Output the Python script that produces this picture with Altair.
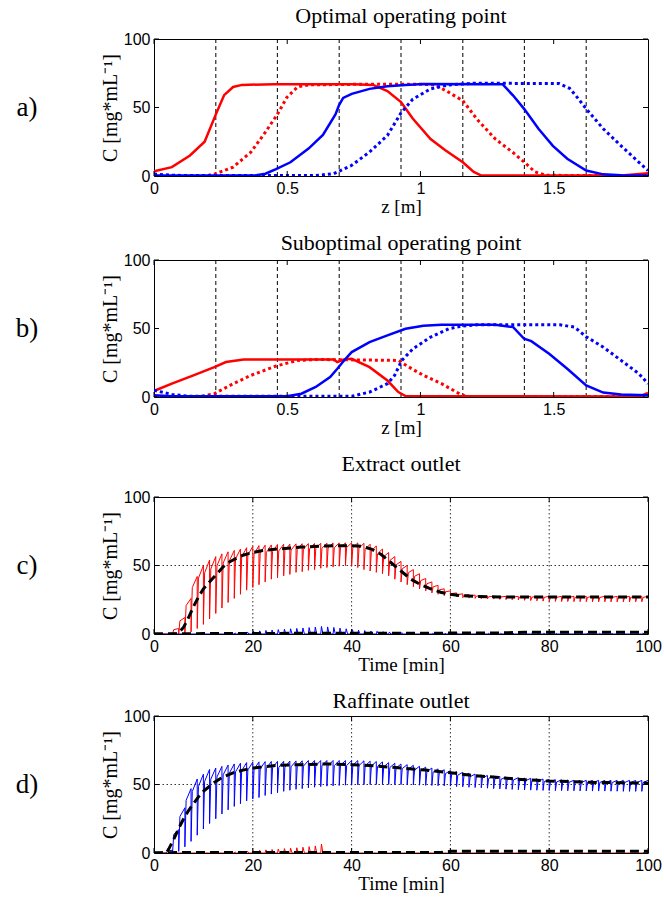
import altair as alt
import pandas as pd

# ---------------- axial profiles (panels a, b) ----------------
Z_MAX = 1.854
column_boundaries = [0.232, 0.463, 0.695, 0.927, 1.159, 1.390, 1.622]
z_ticks = [0, 0.5, 1, 1.5]
c_ticks = [0, 50, 100]

a_red_solid_z = [0, 0.067, 0.135, 0.19, 0.232, 0.263, 0.297, 0.33, 0.45, 0.6, 0.75, 0.822, 0.876, 0.927, 0.971, 1.038, 1.092, 1.159, 1.2, 1.227, 1.5, 1.766, 1.854]
a_red_solid_c = [3.5, 6.5, 15, 25, 45, 59, 65, 66.5, 67, 67, 67, 66.5, 62, 54, 42, 27, 19, 10, 3, 0.5, 0.3, 0.5, 2]
a_red_dot_z = [0, 0.15, 0.2, 0.232, 0.297, 0.364, 0.418, 0.463, 0.499, 0.539, 0.58, 0.8, 1.0, 1.054, 1.098, 1.159, 1.214, 1.281, 1.348, 1.39, 1.43, 1.47, 1.7, 1.854]
a_red_dot_c = [0, 0, 0.3, 1.7, 6.5, 17.5, 32, 45, 57.5, 65, 66.5, 67, 67, 66.5, 62, 55, 41, 27, 17, 10, 3, 0.5, 0.3, 0.3]
a_blue_solid_z = [0, 0.2, 0.378, 0.418, 0.458, 0.512, 0.58, 0.634, 0.681, 0.695, 0.71, 0.742, 0.809, 0.876, 0.944, 1.011, 1.308, 1.348, 1.389, 1.443, 1.497, 1.551, 1.622, 1.686, 1.753, 1.854]
a_blue_solid_c = [0.3, 0.3, 0.3, 1.7, 5, 10, 20, 30, 45, 52, 57, 60, 63.6, 65.5, 66.5, 67.2, 67, 58.7, 49, 34.5, 22, 12.6, 4, 1.2, 0.5, 0.3]
a_blue_dot_z = [0, 0.067, 0.2, 0.607, 0.674, 0.742, 0.809, 0.876, 0.927, 0.971, 1.038, 1.106, 1.2, 1.52, 1.56, 1.59, 1.622, 1.686, 1.753, 1.82, 1.854]
a_blue_dot_c = [1.5, 0.5, 0.3, 0.3, 1.7, 7.8, 17.5, 29.6, 46, 56, 63.6, 66.5, 67.7, 67.5, 64, 57, 49, 34.5, 22, 10, 4]

b_red_solid_z = [0, 0.067, 0.148, 0.2265, 0.27, 0.337, 0.674, 0.688, 0.715, 0.742, 0.809, 0.876, 0.917, 0.944, 1.82, 1.854]
b_red_solid_c = [4.4, 9.7, 15.8, 21.8, 25.5, 27.4, 27.4, 25.5, 27.5, 27.9, 21.8, 12, 3.6, 0.7, 0.3, 2.9]
b_red_dot_z = [0, 0.175, 0.2265, 0.297, 0.364, 0.458, 0.539, 0.607, 0.917, 0.957, 1.011, 1.079, 1.146, 1.173, 1.854]
b_red_dot_c = [0, 0.3, 2.4, 9.7, 15.8, 22.6, 26.7, 27.4, 26.7, 21.8, 15.8, 9.7, 2.4, 0.3, 0.3]
b_blue_solid_z = [0, 0.067, 0.499, 0.553, 0.607, 0.661, 0.688, 0.715, 0.742, 0.809, 0.876, 0.944, 1.011, 1.079, 1.281, 1.348, 1.389, 1.416, 1.483, 1.551, 1.622, 1.686, 1.753, 1.854]
b_blue_solid_c = [1.2, 0.5, 0.5, 2.4, 7.3, 14.6, 20.6, 27, 32.8, 40, 45, 49.8, 52, 52.7, 52.7, 51, 42.5, 40.8, 31.6, 20.6, 8.5, 3.2, 1.9, 1.2]
b_blue_dot_z = [0, 0.067, 0.135, 0.742, 0.809, 0.876, 0.903, 0.93, 0.971, 1.038, 1.106, 1.153, 1.214, 1.524, 1.578, 1.622, 1.686, 1.753, 1.82, 1.854]
b_blue_dot_c = [4.9, 1.9, 0.5, 0.5, 3.6, 9.7, 15.8, 26.7, 35, 43.7, 49.8, 51.7, 52.7, 52.7, 51, 44, 36.4, 26.7, 17, 9.7]

# ---------------- outlet histories (panels c, d) ----------------
SWITCH_PERIOD = 1.25  # min
t_ticks = [0, 20, 40, 60, 80, 100]
t_grid = [20, 40, 60, 80]
c_grid = [50]

ext_red_peak = [0, 0, 0, 4, 12, 26, 42, 50, 54, 56.5,
                58.5, 60, 61, 62, 63, 64, 64.5, 64.8, 65, 65.3,
                65.5, 65.6, 65.8, 65.9, 66, 66.1, 66.2, 66.3, 66.5, 66.5,
                66.5, 66.5, 66.5, 66.2, 65.5, 64.3, 62, 59.5, 56.5, 53,
                50, 47, 44, 40.5, 38, 35.5, 33, 31.5, 30, 29.3,
                28.8, 28.4, 28, 27.8, 27.6, 27.5, 27.5, 27.5, 27.5, 27.5,
                27.5, 27.5, 27.5, 27.5, 27.5, 27.5, 27.5, 27.5, 27.5, 27.5,
                27.5, 27.5, 27.5, 27.5, 27.5, 27.5, 27.5, 27.5, 27.5, 27.5]
ext_red_trough = [0, 0, 0, 0, 0, 0, 1.5, 4, 7, 11,
                  15, 19, 23, 26, 29, 32, 34, 36, 38, 40,
                  41, 42.5, 43.5, 45, 45.5, 46.5, 47, 48, 48.5, 49,
                  49.5, 50, 49.5, 48.5, 47, 46, 45, 44, 42.5, 40,
                  38, 36, 34.5, 33, 31.5, 30, 29, 28, 27.5, 27,
                  26.5, 26.2, 26, 25.8, 25.6, 25.5, 25.3, 25.1, 25, 24.8,
                  24.6, 24.4, 24.2, 24, 23.8, 23.8, 23.7, 23.7, 23.6, 23.6,
                  23.6, 23.5, 23.5, 23.5, 23.5, 23.5, 23.5, 23.5, 23.5, 23.5]
ext_blue_peak = [0, 0, 0, 0, 0, 0, 0, 0, 0, 0,
                 0, 0, 0.5, 0.8, 1.2, 1.5, 2, 2.3, 2.6, 2.9,
                 3.2, 3.5, 3.8, 4.1, 4.4, 4.7, 5, 5.5, 5.2, 4.8,
                 4.3, 3.8, 3.2, 2.8, 2.5, 2.2, 2, 1.7, 1.5, 1.2,
                 1, 0.8, 0.6, 0.5, 0.5, 0.5, 0.5, 0.5, 0.5, 0.5,
                 0.5, 0.5, 0.5, 0.5, 0.5, 0.5, 0.5, 0.5, 0.5, 0.5,
                 0.5, 0.5, 0.5, 0.5, 0.5, 0.5, 0.5, 0.5, 0.5, 0.5,
                 0.5, 0.5, 0.5, 0.5, 0.5, 0.5, 0.5, 0.5, 0.5, 0.5]
raf_blue_peak = [0, 0, 2, 17, 33, 47, 54, 57.5, 61, 62,
                 63.2, 64.2, 65, 65.5, 66, 66.3, 66.5, 66.7, 66.8, 66.9,
                 67, 67.1, 67.2, 67.3, 67.5, 67.5, 67.5, 67.5, 67.5, 67.5,
                 67.5, 67.5, 67.5, 67.3, 67, 66.8, 66.5, 66, 65.5, 65,
                 64.5, 64, 63.3, 62.7, 62, 61.4, 60.8, 60.2, 59.5, 58.9,
                 58.3, 57.6, 57, 56.6, 56.2, 55.9, 55.5, 55.2, 55, 54.7,
                 54.5, 54.2, 54, 53.7, 53.5, 53.4, 53.3, 53.1, 53, 53,
                 53, 53, 53, 53, 53, 53, 53, 53, 53, 53]
raf_blue_trough = [0, 0, 0, 0, 1.2, 4.5, 8.5, 13, 17.5, 21.5,
                   25, 28.5, 31.5, 34, 36, 38, 39.5, 40.5, 42, 43,
                   44, 45, 45.8, 46.5, 47, 47.5, 48, 48.5, 48.8, 49,
                   49.3, 49.5, 49.7, 49.8, 49.9, 50, 50, 50, 50, 50,
                   49.9, 49.8, 49.7, 49.5, 49.4, 49.3, 49.1, 49, 48.8, 48.5,
                   48.3, 48, 47.8, 47.6, 47.3, 47, 46.8, 46.6, 46.4, 46.2,
                   46, 45.9, 45.8, 45.7, 45.6, 45.5, 45.5, 45.4, 45.4, 45.3,
                   45.3, 45.2, 45.2, 45.2, 45.1, 45.1, 45, 45, 45, 45]
raf_red_peak = [0, 0, 0, 0, 0, 0, 0, 0, 0, 0,
                0, 0, 0.5, 0.8, 1.1, 1.4, 1.7, 2, 2.3, 2.6,
                2.9, 3.2, 3.5, 3.8, 4.2, 4.6, 5.2, 6.5, 0, 0,
                0, 0, 0, 0, 0, 0, 0, 0, 0, 0,
                0, 0, 0, 0, 0, 0, 0, 0, 0, 0,
                0, 0, 0, 0, 0, 0, 0, 0, 0, 0,
                0, 0, 0, 0, 0, 0, 0, 0, 0, 0,
                0, 0, 0, 0, 0, 0, 0, 0, 0, 0]

ext_avg_red_t = [0, 4.5, 5, 6, 7, 8, 9, 10, 11, 12, 13, 14, 15, 16, 18, 20, 22, 25, 30, 35, 40, 42, 44, 46, 48, 50, 52, 54, 56, 58, 60, 62, 65, 70, 100]
ext_avg_red_c = [0, 0, 1, 5, 12, 20, 27, 33, 37, 41, 45, 49, 52, 54, 57.5, 59.5, 61, 62, 63.5, 64.3, 64.5, 64, 62, 58, 52, 46, 40, 36, 33, 30.5, 29, 28, 27.5, 27, 27]
ext_avg_blue_t = [0, 10, 30, 50, 70, 75, 100]
ext_avg_blue_c = [0, 0.3, 0.5, 0.5, 0.8, 1.2, 1.2]
raf_avg_blue_t = [0, 2.5, 3, 4, 5, 6, 7, 8, 9, 10, 12, 14, 16, 18, 20, 25, 30, 35, 40, 45, 50, 55, 60, 65, 70, 75, 80, 85, 90, 100]
raf_avg_blue_c = [0, 0, 3, 10, 18, 25, 31, 36, 41, 45, 51, 55.5, 58.5, 60.5, 62, 64, 64.5, 65, 64.5, 63.5, 62, 60.5, 58.5, 56.5, 55, 53.5, 52.5, 52, 51.5, 51]
raf_avg_red_t = [0, 5, 58, 60, 100]
raf_avg_red_c = [0, 0.3, 0.3, 1.2, 1.2]

# ---------------- styling ----------------
W, H = 494, 137
RED, BLUE = "#ff0000", "#0000ff"
SERIF = "Liberation Serif"
SANS = "Liberation Sans"
Y_TITLE = "C [mg*mL⁻¹]"

yscale = alt.Scale(domain=[0, 100], nice=False, zero=False)


def y_enc():
    return alt.Y("C:Q", scale=yscale,
                 axis=alt.Axis(values=c_ticks, title=Y_TITLE, titlePadding=3,
                               titleFontSize=20))


def profile_df(x, c, xname):
    return pd.DataFrame({xname: x, "C": c, "i": list(range(len(x)))})


def comb_df(peaks, troughs):
    """Per switching period: drop to the trough at the switch, fast recovery,
    then a slow approach to the period's peak."""
    rows = []
    for k, (p, tr) in enumerate(zip(peaks, troughs)):
        t0 = k * SWITCH_PERIOD
        rows.append({"t": t0, "C": tr})
        rows.append({"t": t0 + 0.25, "C": tr + 0.8 * (p - tr)})
        rows.append({"t": t0 + SWITCH_PERIOD, "C": p})
    df = pd.DataFrame(rows)
    df["i"] = range(len(df))
    return df


def spike_df(peaks):
    """Minor component: short spike once per switching period."""
    rows = []
    for k, p in enumerate(peaks):
        t0 = k * SWITCH_PERIOD
        rows.append({"t": t0, "C": 0})
        rows.append({"t": t0 + 0.15, "C": p})
        rows.append({"t": t0 + 0.45, "C": 0})
    df = pd.DataFrame(rows)
    df["i"] = range(len(df))
    return df


def make_panel(kind, title, letter, lines, title_offset):
    if kind == "z":
        xname, dom, ticks, xtitle, fmt = "z", [0, Z_MAX], z_ticks, "z [m]", "~g"
    else:
        xname, dom, ticks, xtitle, fmt = "t", [0, 100], t_ticks, "Time [min]", "d"
    xscale = alt.Scale(domain=dom, nice=False, zero=False)

    def x_enc():
        return alt.X(f"{xname}:Q", scale=xscale,
                     axis=alt.Axis(values=ticks, format=fmt, title=xtitle,
                                   labelFlush=False, titlePadding=1))

    layers = []
    if kind == "z":
        layers.append(
            alt.Chart(pd.DataFrame({xname: column_boundaries}))
            .mark_rule(color="black", strokeDash=[4, 3], strokeWidth=1)
            .encode(x=x_enc())
        )
    else:
        layers.append(
            alt.Chart(pd.DataFrame({xname: t_grid}))
            .mark_rule(color="black", strokeDash=[1.5, 2.5], strokeWidth=0.8)
            .encode(x=x_enc())
        )
        layers.append(
            alt.Chart(pd.DataFrame({"C": c_grid}))
            .mark_rule(color="black", strokeDash=[1.5, 2.5], strokeWidth=0.8)
            .encode(y=y_enc())
        )
    for df, color, dash, width in lines:
        kw = dict(color=color, strokeWidth=width, strokeCap="butt", clip=True)
        if dash:
            kw["strokeDash"] = dash
        layers.append(
            alt.Chart(df).mark_line(**kw).encode(
                x=x_enc(), y=y_enc(), order=alt.Order("i:Q"))
        )
    tick_x = pd.DataFrame({xname: ticks})
    tick_y = pd.DataFrame({"C": c_ticks})
    layers += [
        alt.Chart(tick_x).mark_rule(color="black", strokeWidth=1).encode(
            x=x_enc(), y=alt.value(H - 5), y2=alt.value(H)),
        alt.Chart(tick_x).mark_rule(color="black", strokeWidth=1).encode(
            x=x_enc(), y=alt.value(0), y2=alt.value(5)),
        alt.Chart(tick_y).mark_rule(color="black", strokeWidth=1).encode(
            y=y_enc(), x=alt.value(0), x2=alt.value(5)),
        alt.Chart(tick_y).mark_rule(color="black", strokeWidth=1).encode(
            y=y_enc(), x=alt.value(W - 5), x2=alt.value(W)),
        alt.Chart(pd.DataFrame({"lab": [letter]})).mark_text(
            font=SERIF, fontSize=27, align="center", baseline="middle", color="black"
        ).encode(text="lab:N", x=alt.value(-127), y=alt.value(H / 2)),
    ]
    return alt.layer(*layers).properties(
        width=W, height=H,
        title=alt.TitleParams(title, font=SERIF, fontSize=22, fontWeight="normal",
                              color="black", offset=title_offset, frame="group",
                              anchor="middle"),
    )


DOT = [3, 3]
DASH = [9, 5]

panel_a = make_panel("z", "Optimal operating point", "a)", [
    (profile_df(a_red_solid_z, a_red_solid_c, "z"), RED, None, 2.5),
    (profile_df(a_red_dot_z, a_red_dot_c, "z"), RED, DOT, 3),
    (profile_df(a_blue_solid_z, a_blue_solid_c, "z"), BLUE, None, 2.5),
    (profile_df(a_blue_dot_z, a_blue_dot_c, "z"), BLUE, DOT, 3),
], 3)

panel_b = make_panel("z", "Suboptimal operating point", "b)", [
    (profile_df(b_red_solid_z, b_red_solid_c, "z"), RED, None, 2.5),
    (profile_df(b_red_dot_z, b_red_dot_c, "z"), RED, DOT, 3),
    (profile_df(b_blue_solid_z, b_blue_solid_c, "z"), BLUE, None, 2.5),
    (profile_df(b_blue_dot_z, b_blue_dot_c, "z"), BLUE, DOT, 3),
], -3)

panel_c = make_panel("t", "Extract outlet", "c)", [
    (comb_df(ext_red_peak, ext_red_trough), RED, None, 1),
    (spike_df(ext_blue_peak), BLUE, None, 1),
    (profile_df(ext_avg_red_t, ext_avg_red_c, "t"), "black", DASH, 3),
    (profile_df(ext_avg_blue_t, ext_avg_blue_c, "t"), "black", DASH, 3),
], 13)

panel_d = make_panel("t", "Raffinate outlet", "d)", [
    (comb_df(raf_blue_peak, raf_blue_trough), BLUE, None, 1),
    (spike_df(raf_red_peak), RED, None, 1),
    (profile_df(raf_avg_blue_t, raf_avg_blue_c, "t"), "black", DASH, 3),
    (profile_df(raf_avg_red_t, raf_avg_red_c, "t"), "black", DASH, 3),
], -5)

chart = (
    alt.vconcat(panel_a, panel_b, panel_c, panel_d, spacing=14)
    .properties(padding={"left": 15, "top": 4, "right": 2, "bottom": 2},
                background="white")
    .configure_view(stroke="black", strokeWidth=1)
    .configure_axis(labelFont=SANS, labelFontSize=16, labelColor="black",
                    titleFont=SERIF, titleFontSize=19, titleFontWeight="normal",
                    titleColor="black", ticks=False, domain=False, grid=False,
                    labelPadding=4)
)

chart.save("out.html", embed_options={"renderer": "svg", "actions": False})
